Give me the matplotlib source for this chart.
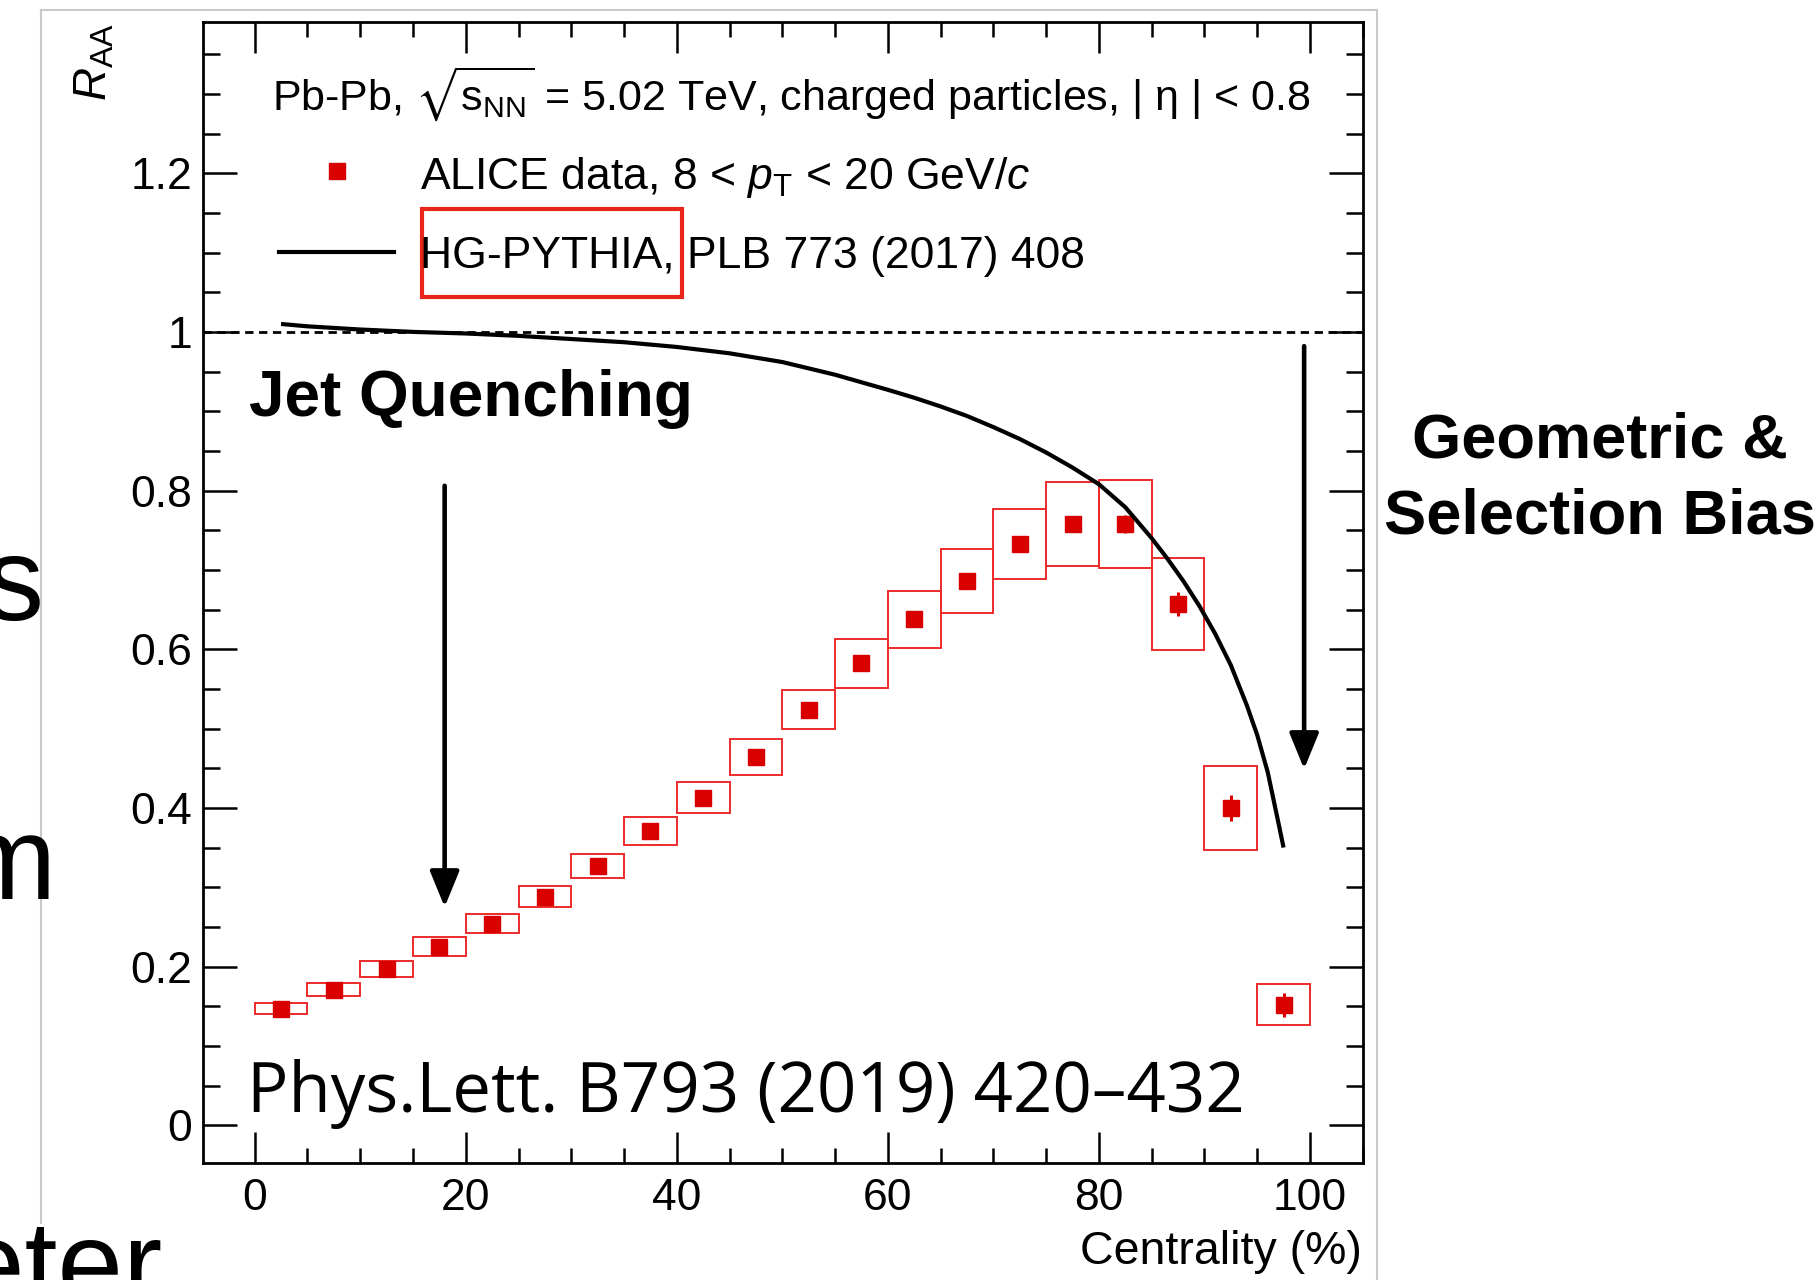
import matplotlib
matplotlib.use('Agg')
import matplotlib.pyplot as plt
from matplotlib.transforms import Affine2D
from matplotlib.patches import Rectangle
from matplotlib.lines import Line2D
from matplotlib.ticker import MultipleLocator

# ---------------- data ----------------
centrality = [2.5, 7.5, 12.5, 17.5, 22.5, 27.5, 32.5, 37.5, 42.5, 47.5,
              52.5, 57.5, 62.5, 67.5, 72.5, 77.5, 82.5, 87.5, 92.5, 97.5]
raa = [0.147, 0.171, 0.197, 0.225, 0.254, 0.288, 0.327, 0.371, 0.413, 0.464,
       0.524, 0.582, 0.638, 0.686, 0.733, 0.758, 0.758, 0.657, 0.400, 0.152]
stat_err = [0.003, 0.003, 0.003, 0.004, 0.004, 0.004, 0.005, 0.005, 0.005, 0.006,
            0.006, 0.006, 0.007, 0.007, 0.008, 0.009, 0.011, 0.015, 0.016, 0.015]
syst_err = [0.007, 0.008, 0.010, 0.012, 0.012, 0.013, 0.015, 0.018, 0.020, 0.023,
            0.025, 0.031, 0.036, 0.040, 0.044, 0.053, 0.055, 0.058, 0.053, 0.026]
bin_width = 5.0

pythia_x = [2.5, 5, 10, 15, 20, 25, 30, 35, 40, 45, 50, 55, 60, 62.5, 65, 67.5,
            70, 72.5, 75, 77.5, 80, 82.5, 85, 86.5, 88, 89.5, 91, 92.5, 94, 95,
            96, 97, 97.5]
pythia_y = [1.010, 1.007, 1.003, 1.000, 0.998, 0.995, 0.991, 0.987, 0.981, 0.973,
            0.962, 0.946, 0.927, 0.917, 0.906, 0.894, 0.880, 0.865, 0.848, 0.829,
            0.808, 0.779, 0.740, 0.714, 0.686, 0.655, 0.620, 0.580, 0.530, 0.492,
            0.445, 0.382, 0.350]

x_ticks = [0, 20, 40, 60, 80, 100]
y_ticks = [0, 0.2, 0.4, 0.6, 0.8, 1.0, 1.2]
y_tick_labels = ['0', '0.2', '0.4', '0.6', '0.8', '1', '1.2']

# annotation arrows (data coords): x, y_start, y_end
arrow_jet = (18.0, 0.806, 0.275)
arrow_geo = (99.45, 0.982, 0.449)

# ---------------- style ----------------
plt.rcParams['font.family'] = ['Liberation Sans', 'DejaVu Sans']
plt.rcParams['mathtext.fontset'] = 'custom'
plt.rcParams['mathtext.rm'] = 'Liberation Sans'
plt.rcParams['mathtext.it'] = 'Liberation Sans:italic'
plt.rcParams['mathtext.bf'] = 'Liberation Sans:bold'
plt.rcParams['mathtext.fallback'] = 'stixsans'

W, H = 1818, 1280
fig = plt.figure(figsize=(W / 100, H / 100), dpi=100)
fig.patch.set_facecolor('white')
pix = Affine2D().scale(1.0 / W, -1.0 / H).translate(0, 1) + fig.transFigure

L, R, T, B = 203, 1362.7, 21.7, 1162.5
ax = fig.add_axes([L / W, 1 - B / H, (R - L) / W, (B - T) / H])
ax.set_xlim(-4.9, 105)
ax.set_ylim(-0.047, 1.391)

RED = '#d90000'
BOXRED = '#ee2a2a'

# dashed unity line
ax.axhline(1.0, color='black', lw=2.0, ls=(0, (3, 2)), zorder=1)

# systematic boxes
bottoms = [v - s for v, s in zip(raa, syst_err)]
heights = [2 * s for s in syst_err]
ax.bar(centrality, heights, bottom=bottoms, width=bin_width, fill=False,
       edgecolor=BOXRED, linewidth=1.4, zorder=2)

# data points with stat errors
ax.errorbar(centrality, raa, yerr=stat_err, fmt='s', color=RED, ms=11.5,
            mec=RED, elinewidth=2.2, capsize=0, zorder=3)

# HG-PYTHIA curve
ax.plot(pythia_x, pythia_y, color='black', lw=3.0, zorder=4,
        solid_capstyle='butt', solid_joinstyle='round')

# arrows
for (xa, y0, y1) in (arrow_jet, arrow_geo):
    ax.annotate('', xy=(xa, y1), xytext=(xa, y0),
                arrowprops=dict(arrowstyle='-|>,head_length=1.1,head_width=0.45',
                                mutation_scale=20, lw=3.3, color='black',
                                shrinkA=0, shrinkB=0), zorder=5)

# axes styling (ROOT like)
for sp in ax.spines.values():
    sp.set_linewidth(2.0)
ax.set_xticks(x_ticks)
ax.set_yticks(y_ticks)
ax.set_yticklabels(y_tick_labels)
ax.xaxis.set_minor_locator(MultipleLocator(5))
ax.yaxis.set_minor_locator(MultipleLocator(0.05))
ax.tick_params(which='both', direction='in', top=True, right=True, width=1.8,
               labelsize=32)
ax.tick_params(axis='x', which='major', length=22, pad=11)
ax.tick_params(axis='x', which='minor', length=11)
ax.tick_params(axis='y', which='major', length=24.5, pad=8)
ax.tick_params(axis='y', which='minor', length=12.5)

# axis titles
fig.text(1362, 1264, 'Centrality (%)', transform=pix, ha='right', va='baseline',
         fontsize=33.5)
fig.text(95, 23, r'$R_{\rm AA}$', transform=pix, ha='center', va='top',
         rotation=90, fontsize=33)

# header and legend
fig.text(272, 110, r'Pb-Pb, $\sqrt{\mathrm{s}_{\rm NN}}$ = 5.02 TeV, charged particles, | η | < 0.8',
         transform=pix, ha='left', va='baseline', fontsize=31)
fig.add_artist(Line2D([337], [171], transform=pix, marker='s', ms=12,
                      color=RED, ls='none'))
fig.text(420, 189, r'ALICE data, 8 < $p_{\rm T}$ < 20 GeV/$c$', transform=pix,
         ha='left', va='baseline', fontsize=32)
fig.add_artist(Line2D([279, 394], [252, 252], transform=pix, color='black', lw=3.0))
fig.text(420, 268, 'HG-PYTHIA, PLB 773 (2017) 408', transform=pix,
         ha='left', va='baseline', fontsize=32)
fig.add_artist(Rectangle((421.5, 209), 260, 88, transform=pix, fill=False,
                         edgecolor='#e8271a', lw=3.0))

# annotations
fig.text(249, 416, 'Jet Quenching', transform=pix, ha='left', va='baseline',
         fontsize=46, fontweight='bold')
fig.text(1600, 458, 'Geometric &', transform=pix, ha='center', va='baseline',
         fontsize=45.5, fontweight='bold')
fig.text(1600, 534, 'Selection Bias', transform=pix, ha='center', va='baseline',
         fontsize=45.5, fontweight='bold')
fig.text(247, 1112, 'Phys.Lett. B793 (2019) 420–432', transform=pix,
         ha='left', va='baseline', fontsize=49.7, family=['Open Sans', 'DejaVu Sans'])

# slide frame and fragments of slide text
frame_c = '#c9c9c9'
fig.add_artist(Line2D([41, 41], [10, 1223], transform=pix, color=frame_c, lw=1.5))
fig.add_artist(Line2D([41, 1377], [10, 10], transform=pix, color=frame_c, lw=1.5))
fig.add_artist(Line2D([1377, 1377], [10, 1280], transform=pix, color=frame_c, lw=1.5))
fig.text(44, 620, 's', transform=pix, ha='right', va='baseline', fontsize=85)
fig.text(55, 899, 'm', transform=pix, ha='right', va='baseline', fontsize=85)
fig.text(162, 1304, 'eter', transform=pix, ha='right', va='baseline', fontsize=85)

fig.savefig('out.png', dpi=100)
